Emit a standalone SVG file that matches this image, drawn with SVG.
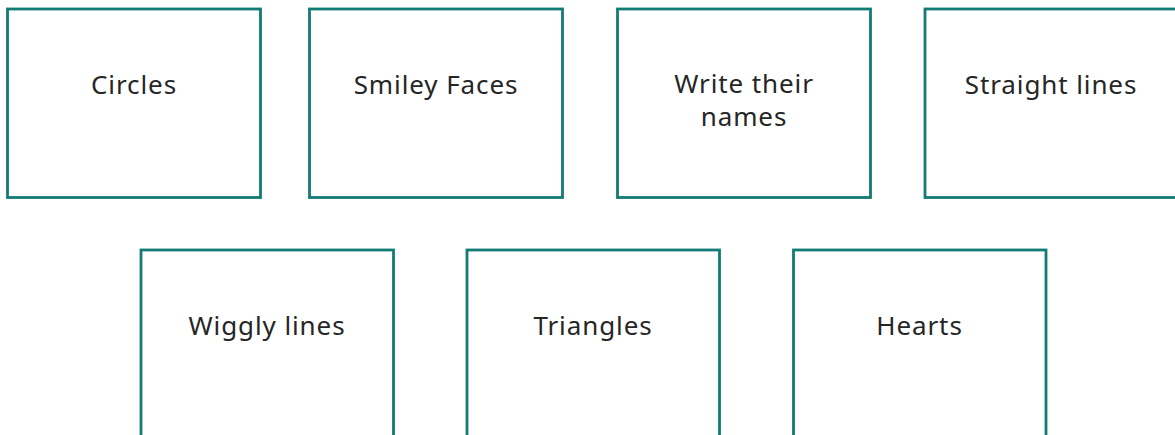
<svg xmlns="http://www.w3.org/2000/svg" width="1175" height="435" viewBox="0 0 1175 435">
<style>
.box{fill:#ffffff;stroke:#127b74;stroke-width:2.8}
.t{font-family:"Noto Sans","Open Sans",sans-serif;font-size:26px;letter-spacing:0.9px;fill:#262626;text-anchor:middle}
</style>
<rect width="1175" height="435" fill="#ffffff"/>
<g id="connectors"></g>
<g id="n1"><rect class="box" x="7.5" y="9" width="253" height="188.5"/><text class="t" x="134" y="94">Circles</text></g>
<g id="n2"><rect class="box" x="309.5" y="9" width="253" height="188.5"/><text class="t" x="436" y="94">Smiley Faces</text></g>
<g id="n3"><rect class="box" x="617.5" y="9" width="253" height="188.5"/><text class="t" x="744" y="93">Write their</text><text class="t" x="744" y="126">names</text></g>
<g id="n4"><rect class="box" x="925" y="9" width="253" height="188.5"/><text class="t" x="1051" y="94">Straight lines</text></g>
<g id="n5"><rect class="box" x="141" y="250" width="252.5" height="200"/><text class="t" x="267" y="335">Wiggly lines</text></g>
<g id="n6"><rect class="box" x="467" y="250" width="252.5" height="200"/><text class="t" x="593" y="335">Triangles</text></g>
<g id="n7"><rect class="box" x="793.5" y="250" width="252.5" height="200"/><text class="t" x="919.5" y="335">Hearts</text></g>
</svg>
